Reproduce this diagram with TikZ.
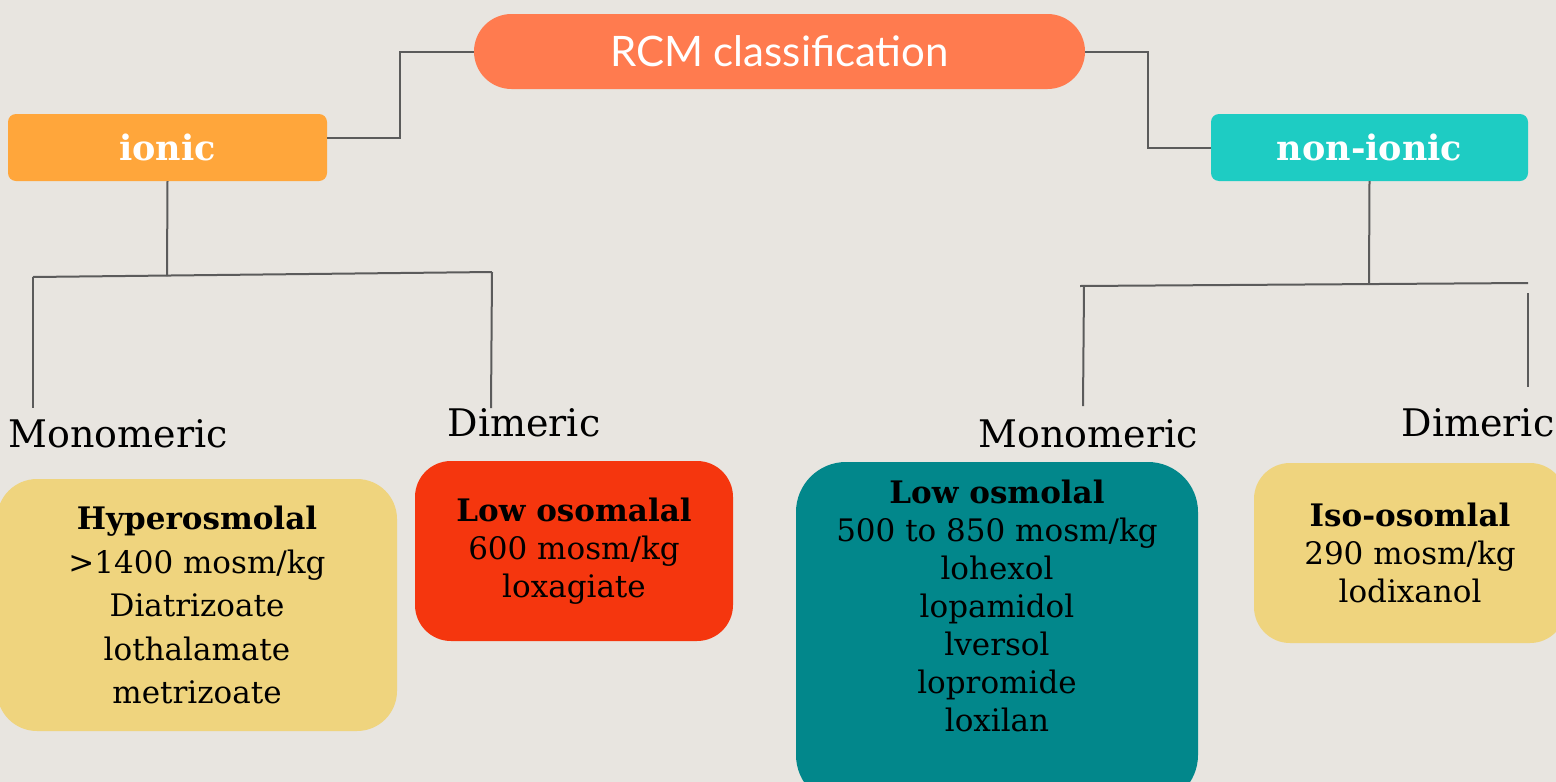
\documentclass[tikz,border=0pt]{standalone}
\usepackage{fontspec}
\usepackage{xcolor}
\setmainfont{DejaVu Serif}
\newfontfamily\headfont{Lato}
\usetikzlibrary{positioning}
\definecolor{bgcol}{HTML}{E8E5E0}
\definecolor{rcmcol}{HTML}{FF7B4F}
\definecolor{ioniccol}{HTML}{FFA63B}
\definecolor{nonioniccol}{HTML}{1ECCC3}
\definecolor{sandcol}{HTML}{EFD47E}
\definecolor{redcol}{HTML}{F5360E}
\definecolor{tealcol}{HTML}{02878B}
\definecolor{linkcol}{HTML}{5B5B5B}
\tikzset{
  link/.style={draw=linkcol, line width=2pt},
  classbox/.style={fill=#1, rounded corners=8pt, inner sep=0pt,
    text=white, font=\fontsize{35}{40}\selectfont\bfseries},
  drugbox/.style={fill=#1, rounded corners=36pt, inner sep=0pt,
    align=center, font=\fontsize{31}{38}\selectfont},
  kindlabel/.style={anchor=base, inner sep=0pt,
    font=\fontsize{38}{44}\selectfont}
}

\begin{document}
\begin{tikzpicture}[x=1pt,y=-1pt]
      \fill[bgcol] (0,0) rectangle (1556,782);
      \useasboundingbox (0,0) rectangle (1556,782);
      \clip (0,0) rectangle (1556,782);

      \node [fill=rcmcol,
        rounded corners=37.5pt,
        minimum width=611pt,
        minimum height=75pt,
        text=white,
        font=\headfont\fontsize{42}{48}\selectfont
      ] (rcm) at (779.5,51.5) {RCM classification};

      \node [classbox=ioniccol,
        minimum width=319pt,
        minimum height=67pt
      ] (ionic) at (167.5,147.5) {ionic};

      \node [classbox=nonioniccol,
        minimum width=317pt,
        minimum height=67pt
      ] (nonionic) at (1369.5,147.5) {non-ionic};

      \draw[link] (rcm.west) -- ++(-74,0) |- ([yshift=10pt]ionic.east);
      \draw[link] (rcm.east) -- ++(63,0) |- (nonionic.west);

      \coordinate (ibus) at (167,276);
      \coordinate (ibusL) at (33,277);
      \coordinate (ibusR) at (492,272);
      \coordinate (imono) at (33,408);
      \coordinate (idim) at (491,408);
      \draw[link] (ionic.south) -- (ibus);
      \draw[link] (ibusL) -- (ibusR);
      \draw[link] (ibusL) -- (imono);
      \draw[link] (ibusR) -- (idim);

      \coordinate (nbus) at (1369,283);
      \coordinate (nbusL) at (1080,286);
      \coordinate (nbusR) at (1528,283);
      \coordinate (nmonoTop) at (1084,286);
      \coordinate (nmono) at (1083,406);
      \coordinate (ndimTop) at (1528,293);
      \coordinate (ndim) at (1528,387);
      \draw[link] (nonionic.south) -- (nbus);
      \draw[link] (nbusL) -- (nbusR);
      \draw[link] (nmonoTop) -- (nmono);
      \draw[link] (ndimTop) -- (ndim);

      \node [kindlabel] (imonolabel) at (118,447) {Monomeric};
      \node [kindlabel] (idimlabel) at (524,436) {Dimeric};
      \node [kindlabel] (nmonolabel) at (1088,447) {Monomeric};
      \node [kindlabel] (ndimlabel) at (1478,436) {Dimeric};

      \node [drugbox=sandcol,
        rounded corners=40pt,
        minimum width=400pt,
        minimum height=252pt,
        font=\fontsize{31}{43.5}\selectfont
      ] (hyper) at (197,605) {\textbf{Hyperosmolal}\\>1400 mosm/kg\\Diatrizoate\\lothalamate\\metrizoate};

      \node [drugbox=redcol,
        minimum width=318pt,
        minimum height=180pt
      ] (lowdim) at (574,551) {\textbf{Low osomalal}\\600 mosm/kg\\loxagiate};

      \node [drugbox=tealcol,
        rounded corners=50pt,
        minimum width=402pt,
        minimum height=343pt
      ] (lowmonobox) at (997,633.5) {};
      \node [align=center,
        inner sep=0pt,
        font=\fontsize{31}{38}\selectfont,
        below=18pt of lowmonobox.north
      ] (lowmono) {\textbf{Low osmolal}\\500 to 850 mosm/kg\\lohexol\\lopamidol\\lversol\\lopromide\\loxilan};

      \node [drugbox=sandcol,
        minimum width=312pt,
        minimum height=180pt
      ] (iso) at (1410,553) {\textbf{Iso-osomlal}\\290 mosm/kg\\lodixanol};
    \end{tikzpicture}
\end{document}
